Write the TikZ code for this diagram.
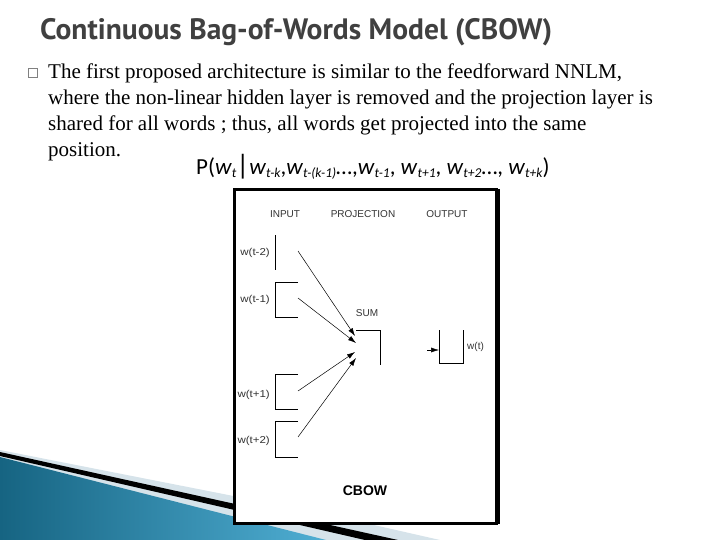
\documentclass[tikz,border=0pt]{standalone}
\usepackage{fontspec}
\setmainfont{Liberation Serif}
\setsansfont{Liberation Sans}
\newfontfamily\titlefont{PT Sans}
\newfontfamily\formfont{Carlito}
\usetikzlibrary{arrows.meta}
\definecolor{titlegray}{RGB}{64,64,64}
\definecolor{flowdark}{RGB}{22,100,130}
\definecolor{flowlight}{RGB}{80,175,212}
\definecolor{flowpale}{RGB}{214,227,234}
\newcommand{\wsub}[1]{\textit{w}{\fontsize{13.5}{13.5}\selectfont\itshape\raisebox{-0.35ex}{#1}}}
\newcommand{\wlab}[1]{\scalebox{1.15}[1]{#1}}

\begin{document}
\begin{tikzpicture}[x=1pt,y=-1pt,
  lab/.style={font=\sffamily\fontsize{10}{10}\selectfont, text=black!80, inner sep=0pt},
  arr/.style={-{Latex[length=8pt,width=5pt]}, line width=0.5pt},
  brk/.style={line width=0.6pt},
  bodyline/.style={anchor=base west, font=\fontsize{21}{26}\selectfont, inner sep=0pt}]
\useasboundingbox (0,0) rectangle (720,540);
% bottom swoosh
\fill[flowpale] (0,450) -- (330,515) -- (440,540) -- (0,540) -- cycle;
\shade[left color=flowdark, right color=flowlight] (0,457) -- (330,541) -- (0,541) -- cycle;
\fill[black] (0,452) -- (398,540) -- (365,540) -- (0,456) -- cycle;

% title and text
\node[anchor=base west, font=\titlefont\bfseries\fontsize{29.5}{29.5}\selectfont, text=titlegray, inner sep=0pt] (title) at (40,40) {Continuous Bag-of-Words Model (CBOW)};
\draw[gray, line width=0.7pt] (28,68) rectangle (37,77);
\node[bodyline] (line1) at (48,79) {The first proposed architecture is similar to the feedforward NNLM,};
\node[bodyline] (line2) at (48,105) {where the non-linear hidden layer is removed and the projection layer is};
\node[bodyline] (line3) at (48,131) {shared for all words ; thus, all words get projected into the same};
\node[bodyline] (line4) at (48,157) {position.};
\node[anchor=base west, font=\formfont\fontsize{23}{23}\selectfont, inner sep=0pt] (prob) at (196,175)
  {P(\wsub{t}{\fontsize{28}{28}\selectfont|}\wsub{t-k},\wsub{t-(k-1)}\ldots,\wsub{t-1}, \wsub{t+1}, \wsub{t+2}\ldots, \wsub{t+k})};

% diagram frame
\draw[line width=3pt, fill=white] (234,190) rectangle (496,523);
\draw[line width=5pt] (497,189) -- (497,524);

\node[lab] (input) at (285,214) {INPUT};
\node[lab] (proj) at (363,214) {PROJECTION};
\node[lab] (output) at (447,214) {OUTPUT};

% input words
\node[lab, anchor=east] (wm2) at (270,253) {\wlab{w(t-2)}};
\node[lab, anchor=east] (wm1) at (270,300) {\wlab{w(t-1)}};
\node[lab, anchor=east] (wp1) at (270,395) {\wlab{w(t+1)}};
\node[lab, anchor=east] (wp2) at (270,441) {\wlab{w(t+2)}};
\draw[brk] (275,235) -- (275,270);
\draw[brk] (298,282) -| (275,317) -- (298,317);
\draw[brk] (298,374) -| (275,409) -- (298,409);
\draw[brk] (298,421) -| (275,457) -- (298,457);

% projection and output
\node[lab] (sum) at (367,313) {SUM};
\draw[brk] (356,330) -- (380,330) -- (380,365);
\draw[brk] (439,330) |- (463,363) -- (463,330);
\node[lab, anchor=west] (wt) at (467,347) {w(t)};

\coordinate (s1) at (298,251);
\coordinate (s2) at (298,298);
\coordinate (s3) at (298,391);
\coordinate (s4) at (298,437);
\coordinate (e1) at (355,336);
\coordinate (e2) at (356,343);
\coordinate (e3) at (355,352);
\coordinate (e4) at (356,358);
\draw[arr] (s1) -- (e1);
\draw[arr] (s2) -- (e2);
\draw[arr] (s3) -- (e3);
\draw[arr] (s4) -- (e4);
\coordinate (o1) at (427,350);
\coordinate (o2) at (439,350);
\draw[arr] (o1) -- (o2);

\node[font=\sffamily\bfseries\fontsize{14}{14}\selectfont] (cbow) at (365,491) {CBOW};
\end{tikzpicture}
\end{document}
